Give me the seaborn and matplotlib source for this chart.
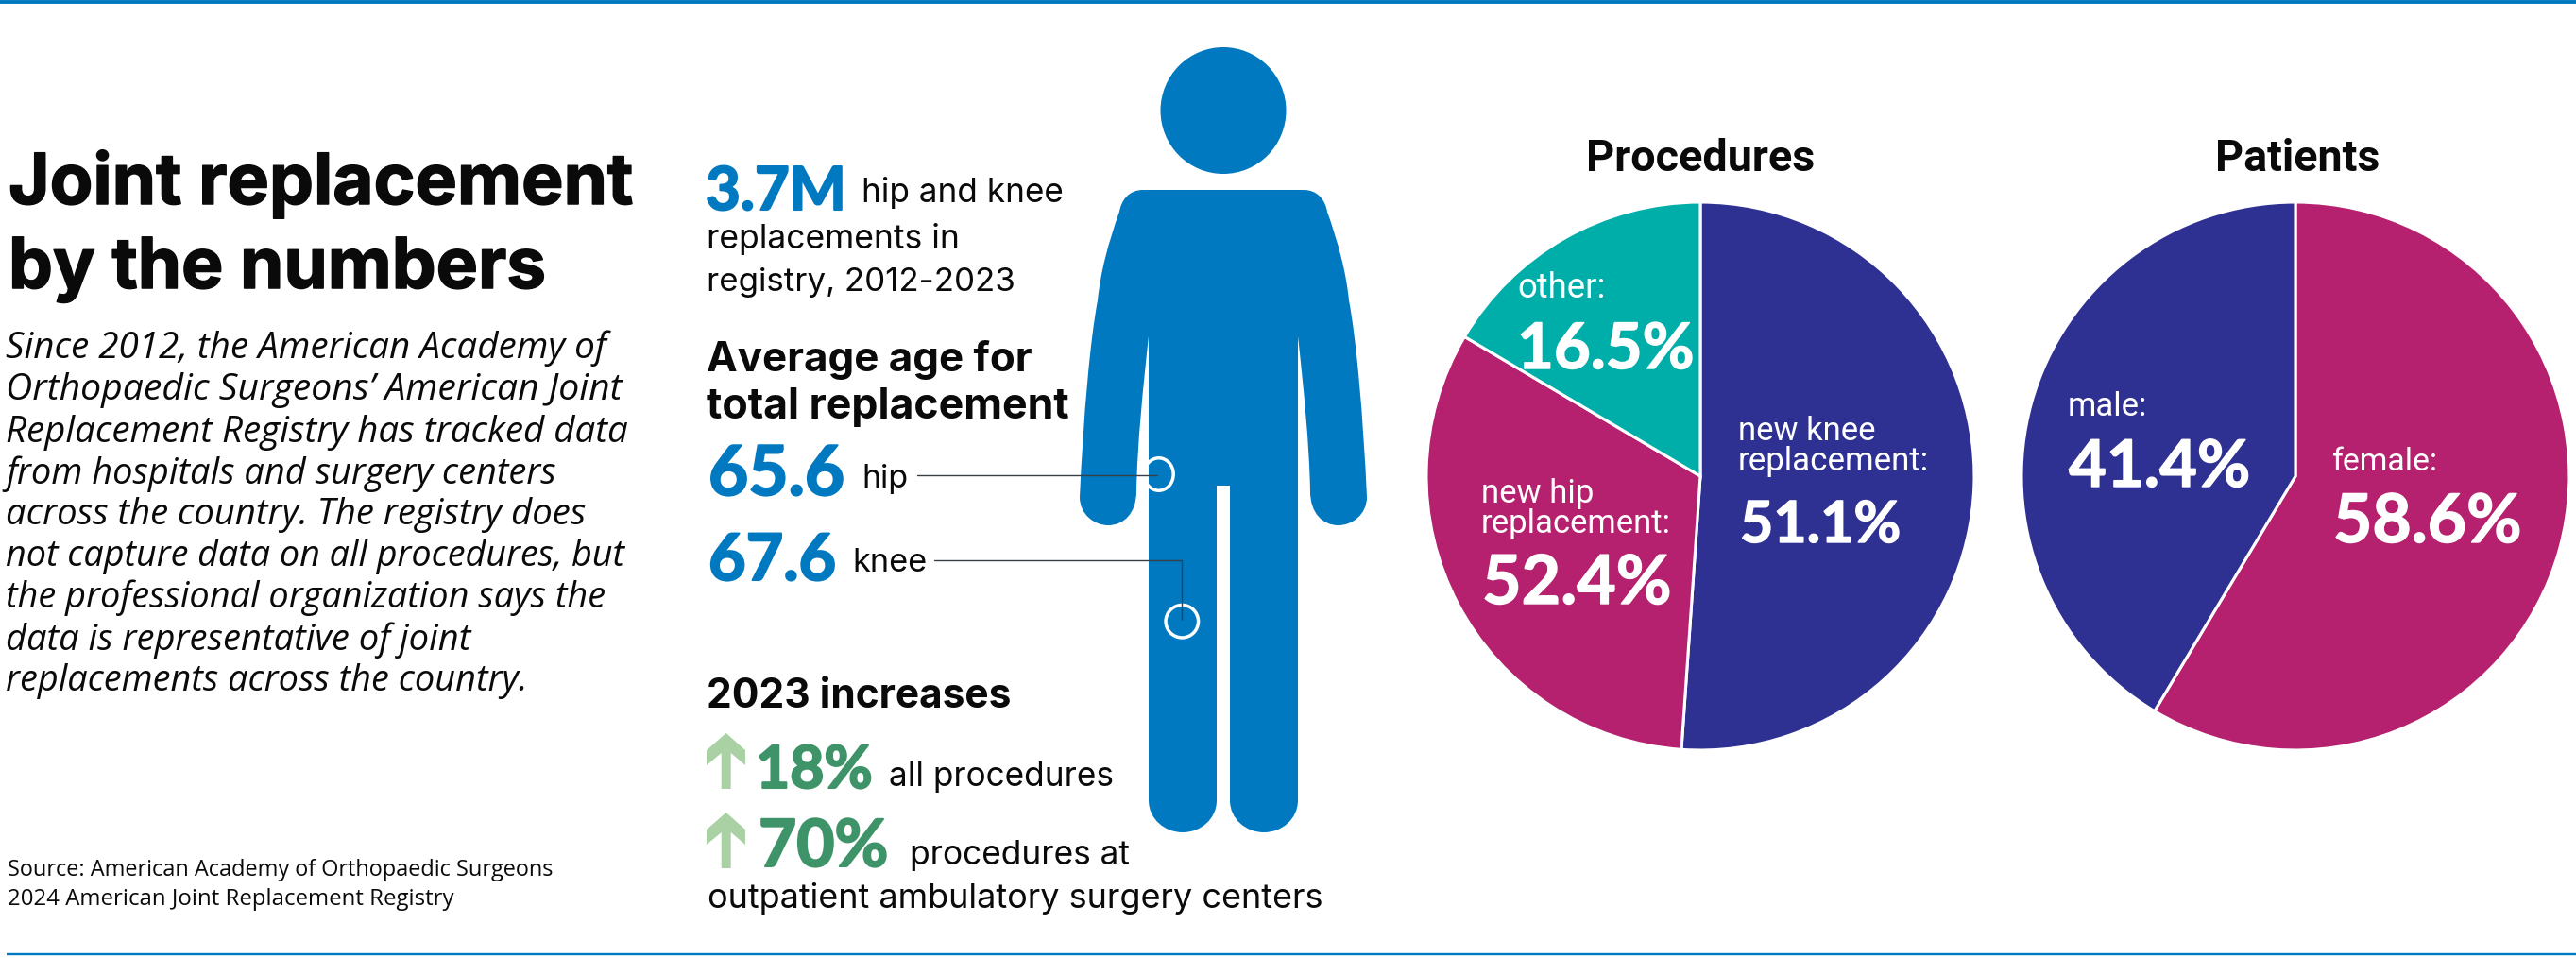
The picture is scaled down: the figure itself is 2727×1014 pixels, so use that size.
import matplotlib
matplotlib.use("Agg")
import matplotlib.pyplot as plt
import matplotlib.patheffects as pe
import seaborn as sns
from matplotlib.patches import Ellipse, PathPatch
from matplotlib.path import Path

W, H = 2727, 1014

# pie data, wedges clockwise from 12 o'clock
procedure_names = ["new knee\nreplacement:", "new hip\nreplacement:", "other:"]
procedure_shares = [51.1, 32.4, 16.5]  # hip wedge is drawn about 32%, its printed label says 52.4%
procedure_printed = ["51.1%", "52.4%", "16.5%"]
patient_names = ["female:", "male:"]
patient_shares = [58.6, 41.4]
patient_printed = ["58.6%", "41.4%"]

NAVY = "#2E3192"
MAGENTA = "#B5216E"
TEAL = "#00AEA9"
BLUE = "#0079C1"
GREEN = "#3F9368"
PALE = "#A9D1A4"
INK = "#0A0A0A"

sns.set_theme(style="white")
plt.rcParams["font.family"] = ["Inter", "DejaVu Sans"]

fig = plt.figure(figsize=(W / 100, H / 100), dpi=100, facecolor="white")
ax = fig.add_axes([0, 0, 1, 1])
ax.set_xlim(0, W)
ax.set_ylim(H, 0)
ax.axis("off")
renderer = fig.canvas.get_renderer()


def put(x, y, s, right, weight="normal", color=INK, family="Inter", style="normal", heft=0):
    # baseline-left text, font size worked out so it ends at pixel x = right
    t = ax.text(x, y, s, fontsize=20, fontweight=weight, color=color, family=[family, "DejaVu Sans"],
                style=style, ha="left", va="baseline", zorder=5)
    width = t.get_window_extent(renderer).width
    t.set_fontsize(20 * (right - x) / width)
    if heft:
        # no heavier cut installed, thicken with a stroke of the same colour
        t.set_path_effects([pe.withStroke(linewidth=heft, foreground=color)])
    return t


def add_pie(cx, cy, r, shares, colors):
    pie_ax = fig.add_axes([(cx - r) / W, 1 - (cy + r) / H, 2 * r / W, 2 * r / H])
    pie_ax.pie(shares, colors=colors, startangle=90, counterclock=False, radius=1,
               wedgeprops={"edgecolor": "white", "linewidth": 2.2})
    pie_ax.set_xlim(-1, 1)
    pie_ax.set_ylim(-1, 1)
    pie_ax.patch.set_alpha(0)
    return pie_ax


def person_path(cx=1295):
    # left half of the figure as (dx, y), the right half is mirrored
    verts = [(-85, 201)]
    codes = [Path.MOVETO]
    curves = [
        [(-100, 201), (-108, 212), (-110, 224)],
        [(-122, 258), (-130, 288), (-133, 318)],
        [(-141, 360), (-148, 440), (-152, 526)],
        [(-152, 545), (-136, 556), (-122, 556)],
        [(-105, 556), (-92, 543), (-92, 520)],
        [(-91, 470), (-85, 410), (-79, 356)],
    ]
    for c in curves:
        verts += c
        codes += [Path.CURVE4] * 3
    verts.append((-79, 847))
    codes.append(Path.LINETO)
    verts += [(-79, 867), (-62, 881), (-43, 881)]
    codes += [Path.CURVE4] * 3
    verts += [(-24, 881), (-7, 867), (-7, 847)]
    codes += [Path.CURVE4] * 3
    verts.append((-7, 514))
    codes.append(Path.LINETO)
    pts = [(cx + dx, y) for dx, y in verts]
    back = [(cx - dx, y) for dx, y in reversed(verts)]
    back_codes = [Path.LINETO] + list(reversed(codes[1:]))
    # reversing a bezier chain keeps the triples in step
    all_pts = pts + back + [pts[0]]
    all_codes = codes + back_codes + [Path.CLOSEPOLY]
    return Path(all_pts, all_codes)


def arrow_path(top):
    # chevron head on a thin shaft
    pts = [(768.7, 0), (789, 18), (789, 34), (773.7, 21), (773.7, 59), (763.7, 59),
           (763.7, 21), (748, 34), (748, 18), (768.7, 0)]
    return Path([(x, top + y) for x, y in pts], closed=True)


# rules
ax.plot([0, W], [2, 2], color=BLUE, lw=2.8, solid_capstyle="butt")
ax.plot([7, W], [1010, 1010], color=BLUE, lw=1.7, solid_capstyle="butt")

# left column
put(9, 216, "Joint replacement", 671, weight="bold", heft=1.1)
put(9, 305, "by the numbers", 579, weight="bold", heft=1.1)
body = [
    ("Since 2012, the American Academy of", 379, 643),
    ("Orthopaedic Surgeons\u2019 American Joint", 423, 659),
    ("Replacement Registry has tracked data", 468, 665),
    ("from hospitals and surgery centers", 512, 589),
    ("across the country. The registry does", 555, 622),
    ("not capture data on all procedures, but", 599, 661),
    ("the professional organization says the", 643, 642),
    ("data is representative of joint", 688, 498),
    ("replacements across the country.", 731, 558),
]
for line, base, right in body:
    put(6, base, line, right, style="italic", family="Open Sans")
put(8, 927, "Source: American Academy of Orthopaedic Surgeons", 586, family="Open Sans")
put(8, 958, "2024 American Joint Replacement Registry", 479, family="Open Sans")

# figure
ax.add_patch(Ellipse((1295, 117), 133, 134, color=BLUE, lw=0))
ax.add_patch(PathPatch(person_path(), facecolor=BLUE, edgecolor="none", zorder=2))
ax.plot([971, 1225], [503, 503], color="#3A3F45", lw=1, zorder=4)
ax.plot([989, 1250.7, 1250.7], [593, 593, 656], color="#3A3F45", lw=1, zorder=4)
ax.add_patch(Ellipse((1226.7, 502), 31, 34.5, facecolor="none", edgecolor="white", lw=2.5, zorder=3))
ax.add_patch(Ellipse((1251.3, 657.7), 34.5, 34.5, facecolor="none", edgecolor="white", lw=2.5, zorder=3))

# middle column
put(747, 222, "3.7M", 896, weight="bold", color=BLUE, family="Lato", heft=1.5)
put(912, 214, "hip and knee", 1125)
put(748, 263, "replacements in", 1016)
put(748, 308, "registry, 2012-2023", 1075)
put(748, 393, "Average age for", 1093, weight="bold")
put(748, 443, "total replacement", 1133, weight="bold")
put(750, 524, "65.6", 894, weight="bold", color=BLUE, family="Lato", heft=1.5)
put(912, 516, "hip", 961)
put(750, 614, "67.6", 885, weight="bold", color=BLUE, family="Lato", heft=1.5)
put(902, 605, "knee", 981)
put(748, 749, "2023 increases", 1071, weight="bold")
ax.add_patch(PathPatch(arrow_path(776), facecolor=PALE, edgecolor="none"))
ax.add_patch(PathPatch(arrow_path(860), facecolor=PALE, edgecolor="none"))
put(800, 834, "18%", 924, weight="bold", color=GREEN, family="Lato", heft=1.5)
put(941, 832, "all procedures", 1179)
put(803, 917, "70%", 941, weight="bold", color=GREEN, family="Lato", heft=1.5)
put(963, 915, "procedures at", 1196)
put(749, 961, "outpatient ambulatory surgery centers", 1401)

# pies
add_pie(1800, 504, 290, procedure_shares, [NAVY, MAGENTA, TEAL])
add_pie(2430, 504, 290, patient_shares, [MAGENTA, NAVY])

# text goes above the pie axes
top = fig.add_axes([0, 0, 1, 1])
top.set_xlim(0, W)
top.set_ylim(H, 0)
top.axis("off")
top.patch.set_alpha(0)
ax = top

put(1679, 181, "Procedures", 1921, weight="bold", family="Roboto")
put(2345, 181, "Patients", 2519, weight="bold", family="Roboto")

knee_lines = procedure_names[0].split("\n")
hip_lines = procedure_names[1].split("\n")
put(1840, 466, knee_lines[0], 1985, color="white", family="Roboto")
put(1840, 498, knee_lines[1], 2041, color="white", family="Roboto")
put(1842, 574, procedure_printed[0], 2013, weight="bold", color="white", family="Lato", heft=1)
put(1568, 532, hip_lines[0], 1687, color="white", family="Roboto")
put(1568, 564, hip_lines[1], 1768, color="white", family="Roboto")
put(1569, 639, procedure_printed[1], 1770, weight="bold", color="white", family="Lato", heft=1)
put(1606, 315, procedure_names[2], 1699, color="white", family="Roboto")
put(1606, 390, procedure_printed[2], 1794, weight="bold", color="white", family="Lato", heft=1)
put(2469, 498, patient_names[0], 2581, color="white", family="Roboto")
put(2470, 574, patient_printed[0], 2670, weight="bold", color="white", family="Lato", heft=1)
put(2189, 440, patient_names[1], 2273, color="white", family="Roboto")
put(2190, 515, patient_printed[1], 2383, weight="bold", color="white", family="Lato", heft=1)

fig.savefig("out.png", dpi=100)
